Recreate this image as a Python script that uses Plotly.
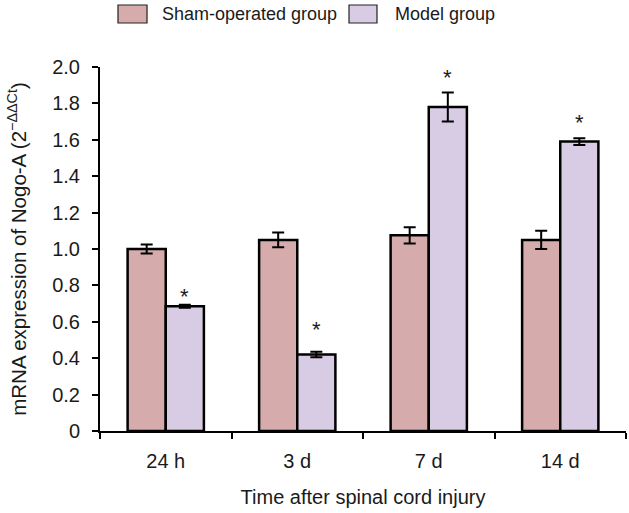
import plotly.graph_objects as go

categories = ["24 h", "3 d", "7 d", "14 d"]
sham_values = [1.00, 1.05, 1.075, 1.05]
sham_errors = [0.025, 0.04, 0.045, 0.05]
model_values = [0.685, 0.42, 1.78, 1.59]
model_errors = [0.008, 0.015, 0.08, 0.018]
significant = [True, True, True, True]
series_names = ["Sham-operated group", "Model group"]
y_ticks = [0, 0.2, 0.4, 0.6, 0.8, 1.0, 1.2, 1.4, 1.6, 1.8, 2.0]
y_tick_labels = ["0", "0.2", "0.4", "0.6", "0.8", "1.0", "1.2", "1.4", "1.6", "1.8", "2.0"]

# styling
FONT = "Liberation Sans, Arial, sans-serif"
TEXT = "#1a1a1a"
SHAM_COLOR = "#D6ABAB"
MODEL_COLOR = "#D7CCE4"
star_yshift = [-6, 8, 0, 1]  # px fine-tuning of asterisks

fig = go.Figure()
fig.add_trace(go.Bar(
    x=categories, y=sham_values, name=series_names[0], showlegend=False,
    marker=dict(color=SHAM_COLOR, line=dict(color="black", width=2.5)),
    error_y=dict(type="data", array=sham_errors, color="black", thickness=2, width=6),
))
fig.add_trace(go.Bar(
    x=categories, y=model_values, name=series_names[1], showlegend=False,
    marker=dict(color=MODEL_COLOR, line=dict(color="black", width=2.5)),
    error_y=dict(type="data", array=model_errors, color="black", thickness=2, width=6),
))

for i, (v, e, s) in enumerate(zip(model_values, model_errors, significant)):
    if s:
        fig.add_annotation(
            x=i + 0.145, y=v + e, xref="x", yref="y", text="*",
            showarrow=False, yanchor="bottom", yshift=star_yshift[i],
            font=dict(family=FONT, size=22, color=TEXT),
        )

# custom legend (boxes + labels) above plot
legend_boxes = [(0.0342, 0.0894), (0.4734, 0.5266)]
legend_text_x = [0.1141, 0.557]
for (x0, x1), tx, name, col in zip(legend_boxes, legend_text_x, series_names, [SHAM_COLOR, MODEL_COLOR]):
    fig.add_shape(type="rect", xref="paper", yref="paper", x0=x0, x1=x1, y0=1.1209, y1=1.1703,
                  fillcolor=col, line=dict(color="#222", width=1.2))
    fig.add_annotation(xref="paper", yref="paper", x=tx, y=1.1456, text=name, showarrow=False,
                       xanchor="left", yanchor="middle", font=dict(family=FONT, size=18, color=TEXT))

fig.update_layout(
    width=629, height=513,
    margin=dict(l=100, r=3, t=67, b=82),
    paper_bgcolor="white", plot_bgcolor="white",
    barmode="group", bargap=0.42, bargroupgap=0,
    font=dict(family=FONT, size=20, color=TEXT),
    showlegend=False,
    xaxis=dict(
        showline=True, linecolor="black", linewidth=2,
        ticks="outside", tickson="boundaries", ticklen=6, tickwidth=2, tickcolor="black",
        tickfont=dict(size=20), showgrid=False, automargin=False,
        ticklabelstandoff=11,
        title=dict(text="Time after spinal cord injury", font=dict(size=20), standoff=19),
    ),
    yaxis=dict(
        range=[0, 2.0], tickvals=y_ticks, ticktext=y_tick_labels,
        showline=True, linecolor="black", linewidth=2,
        ticks="outside", ticklen=6, tickwidth=2, tickcolor="black",
        tickfont=dict(size=20), showgrid=False, zeroline=False, automargin=False,
        ticklabelstandoff=8,
        title=dict(text="mRNA expression of Nogo-A (2<sup>−ΔΔCt</sup>)", font=dict(size=20.5), standoff=20),
    ),
)

fig.write_html("out.html", config={"displayModeBar": False},
               post_script="document.body.style.margin='0';document.body.style.overflow='hidden';")
